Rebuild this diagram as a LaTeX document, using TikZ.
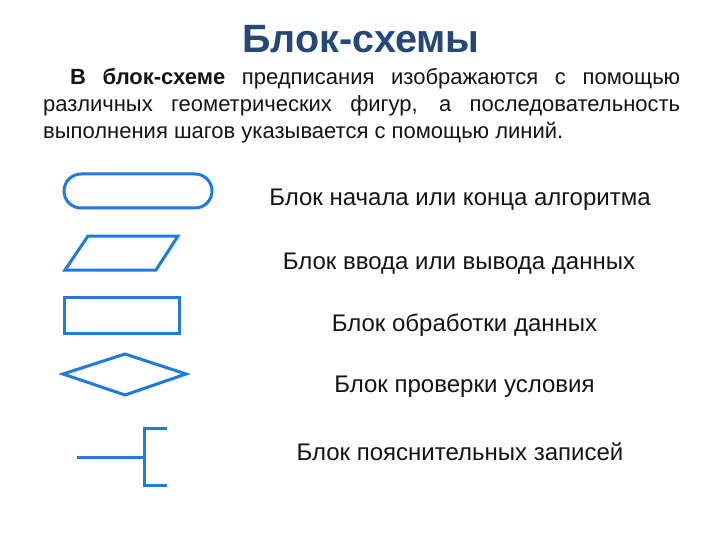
\documentclass[tikz,border=0pt]{standalone}
\usepackage{fontspec}
\setmainfont{Liberation Sans}
\definecolor{titleblue}{RGB}{38,72,118}
\definecolor{shapeblue}{RGB}{30,122,222}
\definecolor{txt}{RGB}{20,20,20}
\begin{document}
\begin{tikzpicture}[x=1pt,y=-1pt,
  shp/.style={draw=shapeblue,line width=3pt,line join=miter},
  lbl/.style={text=txt,font=\fontsize{24}{28}\selectfont,inner sep=0pt,anchor=base}]
\useasboundingbox (0,0) rectangle (720,540);
\node[text=titleblue,font=\fontsize{39.5}{44}\selectfont\bfseries,inner sep=0pt,anchor=base] (title) at (361,53) {Блок-схемы};
\node[text=txt,font=\fontsize{22}{27}\selectfont,text width=637pt,align=justify,inner sep=0pt,anchor=base west] (para) at (43,84.5)
 {\hspace*{27pt}\textbf{В блок-схеме} предписания изображаются с помощью\linebreak различных геометрических фигур, а последовательность\linebreak выполнения шагов указывается с помощью линий.};
% terminal
\draw[shp,rounded corners=17pt] (64,174) rectangle (212,208);
% parallelogram
\draw[shp] (88,236) -- (178,236) -- (156,270) -- (65,270) -- cycle;
% rectangle
\draw[shp] (64,297) rectangle (179,333);
% diamond
\draw[shp] (125,354) -- (186,374) -- (125,395) -- (63,374) -- cycle;
% comment
\coordinate (ca) at (77,457);
\coordinate (cb) at (144,457);
\draw[shp] (ca) -- (cb);
\draw[shp] (167,428) -- (144,428) -- (144,485) -- (167,485);
\node[lbl] (l1) at (460,206) {Блок начала или конца алгоритма};
\node[lbl] (l2) at (459,269) {Блок ввода или вывода данных};
\node[lbl] (l3) at (464.5,331) {Блок обработки данных};
\node[lbl] (l4) at (464.5,392) {Блок проверки условия};
\node[lbl] (l5) at (460,460) {Блок пояснительных записей};
\end{tikzpicture}
\end{document}
